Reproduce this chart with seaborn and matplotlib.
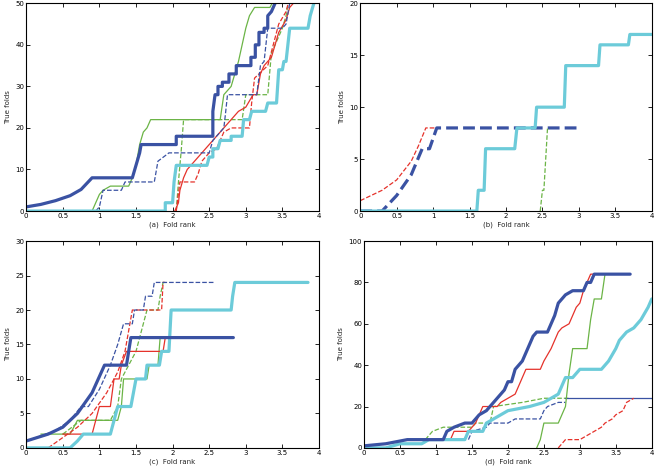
import matplotlib
matplotlib.use("Agg")
import matplotlib.pyplot as plt
import seaborn as sns

sns.set_theme(style="ticks")
plt.rcParams['font.family'] = ['DejaVu Sans']

# colours of the methods
BLUE = "#3a52a3"
CYAN = "#6ccbd9"
RED = "#e5322b"
GREEN = "#6bb446"

# ---------------- panel (a) ----------------
a_blue_x = [0, 0.2, 0.4, 0.6, 0.75, 0.9, 1.45, 1.5, 1.55, 1.57, 2.05, 2.05, 2.55, 2.55, 2.58, 2.62, 2.62, 2.68, 2.68, 2.77, 2.77, 2.87, 2.87, 3.07, 3.07, 3.13, 3.13, 3.18, 3.18, 3.25, 3.25, 3.3, 3.3, 3.35, 3.4]
a_blue_y = [1, 1.6, 2.5, 3.7, 5.2, 8, 8, 11, 14, 16, 16, 18, 18, 24, 28, 28, 30, 30, 31, 31, 33, 33, 35, 35, 37, 37, 40, 40, 43, 43, 44, 44, 47, 48, 50]
a_cyan_x = [0, 1.9, 1.9, 2.0, 2.02, 2.05, 2.47, 2.5, 2.55, 2.55, 2.62, 2.65, 2.8, 2.8, 2.95, 2.97, 3.05, 3.08, 3.27, 3.3, 3.42, 3.45, 3.5, 3.52, 3.55, 3.6, 3.85, 3.88, 3.93]
a_cyan_y = [0, 0, 2, 2, 7, 11, 11, 13, 13, 15, 15, 17, 17, 18, 18, 22, 22, 24, 24, 26, 26, 34, 34, 36, 36, 44, 44, 47, 50]
a_green_x = [0, 0.9, 1.0, 1.05, 1.15, 1.4, 1.45, 1.5, 1.55, 1.6, 1.65, 1.7, 2.65, 2.7, 2.8, 2.85, 2.9, 2.95, 3.0, 3.05, 3.12, 3.33, 3.36]
a_green_y = [0, 0, 4, 5, 6, 6, 8, 11, 16, 19, 20, 22, 22, 28, 30, 33, 36, 40, 44, 47, 49, 49, 50]
a_red_x = [2.03, 2.08, 2.1, 2.15, 2.2, 2.3, 2.4, 2.5, 2.6, 2.7, 2.8, 2.9, 3.0, 3.1, 3.15, 3.2, 3.25, 3.35, 3.4, 3.45, 3.55, 3.6, 3.65]
a_red_y = [0, 2, 5, 8, 10, 12, 14, 16, 18, 20, 22, 24, 25, 28, 28, 33, 35, 37, 40, 43, 46, 49, 50]
a_reddash_x = [2.05, 2.1, 2.3, 2.35, 2.4, 2.5, 2.6, 2.7, 2.8, 3.05, 3.08, 3.12, 3.3, 3.45, 3.55, 3.58]
a_reddash_y = [0, 7, 7, 9, 12, 14, 15, 19, 20, 20, 26, 32, 35, 45, 48, 50]
a_bluedash_x = [0.95, 1.0, 1.05, 1.3, 1.35, 1.75, 1.8, 1.95, 2.5, 2.55, 2.6, 2.7, 2.72, 2.75, 3.15, 3.2, 3.25, 3.3, 3.5, 3.55, 3.6]
a_bluedash_y = [0, 1, 5, 5, 7, 7, 12, 14, 14, 17, 18, 20, 23, 28, 28, 35, 36, 44, 44, 45, 50]
a_greendash_x = [2.05, 2.08, 2.12, 2.15, 2.95, 3.0, 3.3, 3.35, 3.5, 3.55, 3.58]
a_greendash_y = [0, 7, 15, 22, 22, 28, 28, 38, 44, 47, 50]

# ---------------- panel (b) ----------------
b_reddash_x = [0, 0.3, 0.5, 0.7, 0.8, 0.9, 1.05]
b_reddash_y = [1, 2, 3, 4.8, 6.3, 8, 8]
b_bluedash_x = [0, 0.3, 0.5, 0.7, 0.85, 0.95, 1.05, 3.0]
b_bluedash_y = [0, 0, 1.5, 3.5, 6, 6, 8, 8]
b_cyan_x = [0, 1.6, 1.62, 1.7, 1.72, 2.12, 2.15, 2.4, 2.42, 2.8, 2.82, 3.27, 3.29, 3.68, 3.7, 4.0]
b_cyan_y = [0, 0, 2, 2, 6, 6, 8, 8, 10, 10, 14, 14, 16, 16, 17, 17]
b_greendash_x = [2.47, 2.5, 2.52, 2.57]
b_greendash_y = [0, 2, 2, 8]

# ---------------- panel (c) ----------------
c_blue_x = [0, 0.3, 0.5, 0.7, 0.9, 1.07, 1.37, 1.43, 2.83]
c_blue_y = [1, 2, 3, 5, 8, 12, 12, 16, 16]
c_bluedash_x = [0, 0.4, 0.6, 0.75, 0.85, 1.0, 1.15, 1.25, 1.33, 1.45, 1.48, 1.6, 1.63, 1.72, 1.75, 2.57]
c_bluedash_y = [1, 2.5, 4, 6, 6, 8.5, 12, 15, 18, 18, 20, 20, 22, 22, 24, 24]
c_reddash_x = [0.3, 0.5, 0.7, 0.9, 1.1, 1.25, 1.35, 1.4, 1.45, 1.85, 1.87, 1.9]
c_reddash_y = [0, 1.5, 3, 5, 8, 11, 14, 17, 20, 20, 24, 24]
c_red_x = [0.5, 0.9, 0.95, 1.0, 1.15, 1.2, 1.27, 1.3, 1.37, 1.87, 1.9, 2.0]
c_red_y = [2, 2, 4, 6, 6, 10, 10, 12, 14, 14, 16, 16]
c_green_x = [0.2, 0.6, 0.7, 1.25, 1.3, 1.33, 1.65, 1.68, 1.8, 1.83, 1.86]
c_green_y = [2, 2, 4, 4, 6, 10, 10, 12, 12, 16, 16]
c_greendash_x = [0.5, 0.75, 1.15, 1.25, 1.3, 1.4, 1.5, 1.55, 1.6, 1.65, 1.8, 1.83, 1.87, 1.9]
c_greendash_y = [2, 4, 4, 6, 10, 12, 14, 16, 18, 20, 20, 22, 24, 24]
c_cyan_x = [0, 0.6, 0.7, 0.78, 1.15, 1.25, 1.43, 1.5, 1.63, 1.65, 1.82, 1.85, 1.95, 1.98, 2.8, 2.82, 2.85, 3.85]
c_cyan_y = [0, 0, 1, 2, 2, 6, 6, 10, 10, 12, 12, 14, 14, 20, 20, 22, 24, 24]

# ---------------- panel (d) ----------------
d_blue_x = [0, 0.3, 0.6, 1.1, 1.15, 1.25, 1.4, 1.5, 1.55, 1.6, 1.7, 1.75, 1.8, 1.85, 1.9, 1.95, 2.0, 2.05, 2.1, 2.15, 2.2, 2.25, 2.3, 2.35, 2.4, 2.55, 2.6, 2.65, 2.7, 2.75, 2.8, 2.9, 3.05, 3.1, 3.15, 3.2, 3.7]
d_blue_y = [1, 2, 4, 4, 8, 10, 12, 12, 14, 16, 18, 20, 22, 24, 26, 28, 32, 32, 38, 40, 42, 46, 50, 54, 56, 56, 60, 64, 70, 72, 74, 76, 76, 80, 80, 84, 84]
d_red_x = [1.2, 1.25, 1.45, 1.55, 1.6, 1.65, 1.85, 1.9, 2.0, 2.1, 2.15, 2.2, 2.25, 2.45, 2.5, 2.6, 2.7, 2.75, 2.85, 2.95, 3.0, 3.05, 3.1, 3.15, 3.2]
d_red_y = [4, 8, 8, 12, 16, 20, 20, 22, 24, 26, 30, 34, 38, 38, 42, 48, 56, 58, 60, 68, 70, 76, 80, 84, 84]
d_green_x = [2.4, 2.45, 2.5, 2.7, 2.75, 2.8, 2.85, 2.9, 3.1, 3.15, 3.2, 3.3, 3.35]
d_green_y = [0, 4, 12, 12, 16, 20, 36, 48, 48, 62, 72, 72, 84]
d_cyan_x = [0, 0.3, 0.5, 0.8, 0.9, 1.4, 1.45, 1.65, 1.7, 1.8, 1.9, 2.0, 2.3, 2.5, 2.6, 2.7, 2.75, 2.8, 2.9, 3.0, 3.3, 3.4, 3.5, 3.55, 3.65, 3.75, 3.85, 3.95, 4.0]
d_cyan_y = [0, 0, 2, 2, 4, 4, 8, 8, 12, 14, 16, 18, 20, 22, 24, 26, 30, 34, 34, 38, 38, 42, 48, 52, 56, 58, 62, 68, 72]
d_greendash_x = [0.85, 0.95, 1.1, 1.5, 1.55, 1.75, 1.8, 2.2, 2.5, 2.85]
d_greendash_y = [4, 8, 10, 10, 12, 12, 20, 22, 24, 24]
d_bluedash_x = [1.45, 1.5, 1.7, 1.75, 2.0, 2.1, 2.45, 2.5, 2.55, 2.7, 2.8]
d_bluedash_y = [4, 8, 10, 12, 12, 14, 14, 18, 20, 22, 22]
d_blueflat_x = [2.8, 4.0]
d_blueflat_y = [24, 24]
d_reddash_x = [2.7, 2.75, 2.8, 3.0, 3.1, 3.2, 3.3, 3.35, 3.45, 3.5, 3.6, 3.65, 3.75]
d_reddash_y = [0, 2, 4, 4, 6, 8, 10, 12, 14, 16, 18, 22, 24]

THICK = 2.3
THIN = 0.9


def draw(ax, xs, ys, color, lw, ls="-"):
    sns.lineplot(x=xs, y=ys, ax=ax, sort=False, estimator=None,
                 color=color, linewidth=lw, linestyle=ls)


def style(ax, ymax, yticks, label):
    ax.set_xlim(0, 4)
    ax.set_ylim(0, ymax)
    ax.set_xticks([0, 0.5, 1, 1.5, 2, 2.5, 3, 3.5, 4])
    ax.set_xticklabels(["0", "0.5", "1", "1.5", "2", "2.5", "3", "3.5", "4"])
    ax.set_yticks(yticks)
    ax.tick_params(direction="in", length=3, width=0.6, labelsize=5, pad=1.5,
                   top=True, right=True, colors="black")
    for s in ax.spines.values():
        s.set_visible(True)
        s.set_linewidth(0.8)
        s.set_color("black")
    ax.set_xlabel(label, fontsize=5, labelpad=1.5)
    ax.set_ylabel("True folds", fontsize=5, labelpad=3)


fig = plt.figure(figsize=(6.55, 4.69), dpi=100)
axa = fig.add_axes([0.040, 0.550, 0.447, 0.443])
axb = fig.add_axes([0.550, 0.550, 0.445, 0.443])
axc = fig.add_axes([0.040, 0.045, 0.447, 0.441])
axd = fig.add_axes([0.556, 0.045, 0.439, 0.441])

# (a)
draw(axa, a_green_x, a_green_y, GREEN, THIN)
draw(axa, a_greendash_x, a_greendash_y, GREEN, THIN, "--")
draw(axa, a_red_x, a_red_y, RED, THIN)
draw(axa, a_reddash_x, a_reddash_y, RED, THIN, "--")
draw(axa, a_bluedash_x, a_bluedash_y, BLUE, THIN, "--")
draw(axa, a_cyan_x, a_cyan_y, CYAN, THICK)
draw(axa, a_blue_x, a_blue_y, BLUE, THICK)
style(axa, 50, [0, 10, 20, 30, 40, 50], "(a)  Fold rank")

# (b)
draw(axb, b_reddash_x, b_reddash_y, RED, THIN, "--")
draw(axb, b_bluedash_x, b_bluedash_y, BLUE, THICK, "--")
draw(axb, b_cyan_x, b_cyan_y, CYAN, THICK)
draw(axb, b_greendash_x, b_greendash_y, GREEN, THIN, "--")
style(axb, 20, [0, 5, 10, 15, 20], "(b)  Fold rank")

# (c)
draw(axc, c_green_x, c_green_y, GREEN, THIN)
draw(axc, c_greendash_x, c_greendash_y, GREEN, THIN, "--")
draw(axc, c_red_x, c_red_y, RED, THIN)
draw(axc, c_reddash_x, c_reddash_y, RED, THIN, "--")
draw(axc, c_bluedash_x, c_bluedash_y, BLUE, THIN, "--")
draw(axc, c_cyan_x, c_cyan_y, CYAN, THICK)
draw(axc, c_blue_x, c_blue_y, BLUE, THICK)
style(axc, 30, [0, 5, 10, 15, 20, 25, 30], "(c)  Fold rank")

# (d)
draw(axd, d_greendash_x, d_greendash_y, GREEN, THIN, "--")
draw(axd, d_bluedash_x, d_bluedash_y, BLUE, THIN, "--")
draw(axd, d_blueflat_x, d_blueflat_y, BLUE, THIN)
draw(axd, d_reddash_x, d_reddash_y, RED, THIN, "--")
draw(axd, d_green_x, d_green_y, GREEN, THIN)
draw(axd, d_red_x, d_red_y, RED, THIN)
draw(axd, d_cyan_x, d_cyan_y, CYAN, THICK)
draw(axd, d_blue_x, d_blue_y, BLUE, THICK)
style(axd, 100, [0, 20, 40, 60, 80, 100], "(d)  Fold rank")

fig.savefig("out.png", dpi=100)
